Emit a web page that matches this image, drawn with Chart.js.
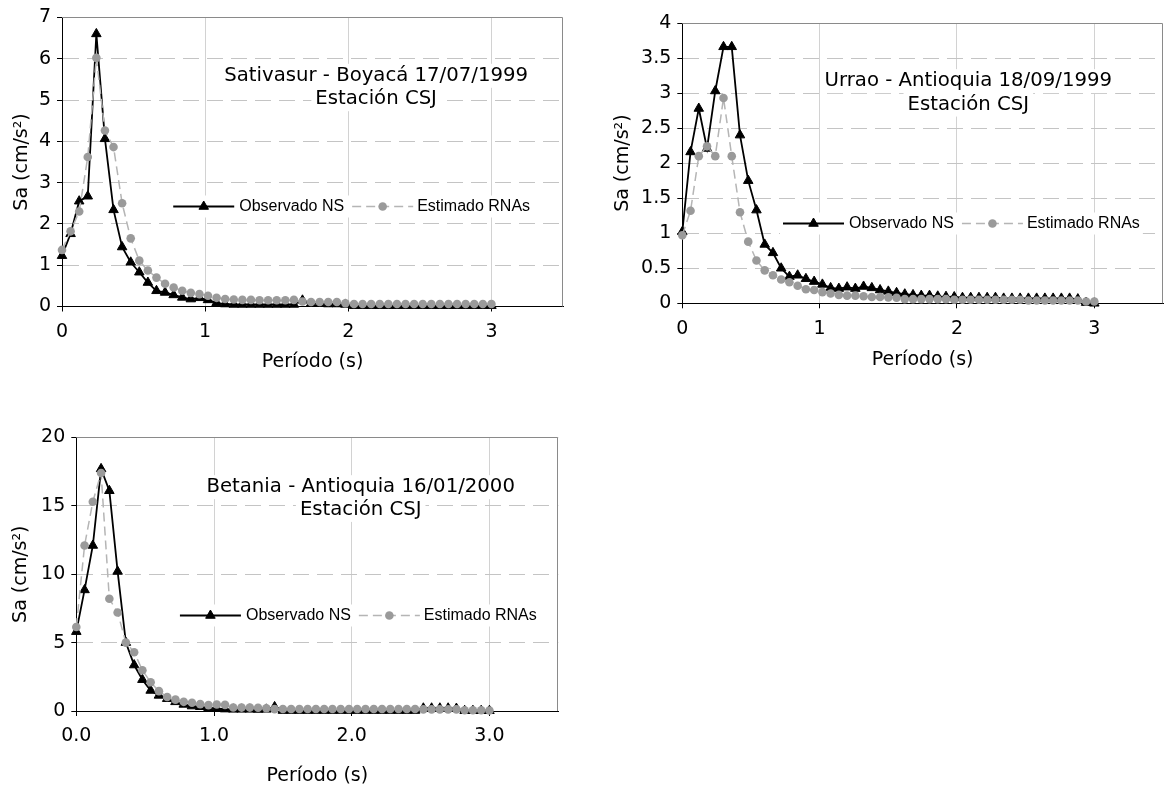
<!DOCTYPE html>
<html>
<head>
<meta charset="utf-8">
<title>Espectros de respuesta - Estación CSJ</title>
<script src="https://cdn.jsdelivr.net/npm/chart.js@4.4.0/dist/chart.umd.min.js"></script>
<style>
html,body{margin:0;background:#fff;overflow:hidden;}
canvas{position:absolute;}
</style>
</head>
<body>
<canvas id="g1" width="580" height="385" style="left:0;top:0"></canvas>
<canvas id="g2" width="574" height="385" style="left:590px;top:0"></canvas>
<canvas id="g3" width="580" height="369" style="left:0;top:420px"></canvas>
<script>
// Periodos (s)
const periodos = [0, 0.06, 0.12, 0.18, 0.24, 0.3, 0.36, 0.42, 0.48, 0.54,
  0.6, 0.66, 0.72, 0.78, 0.84, 0.9, 0.96, 1.02, 1.08, 1.14,
  1.2, 1.26, 1.32, 1.38, 1.44, 1.5, 1.56, 1.62, 1.68, 1.74,
  1.8, 1.86, 1.92, 1.98, 2.04, 2.1, 2.16, 2.22, 2.28, 2.34,
  2.4, 2.46, 2.52, 2.58, 2.64, 2.7, 2.76, 2.82, 2.88, 2.94, 3.0];

// Sativasur - Boyacá 17/07/1999
const obsSativasur = [1.23, 1.76, 2.55, 2.67, 6.60, 4.06, 2.34, 1.44, 1.07, 0.83,
  0.58, 0.38, 0.34, 0.28, 0.22, 0.18, 0.21, 0.16, 0.09, 0.06,
  0.05, 0.05, 0.05, 0.05, 0.05, 0.05, 0.05, 0.05, 0.15, 0.07,
  0.07, 0.06, 0.06, 0.05, 0.02, 0.02, 0.02, 0.02, 0.02, 0.02,
  0.02, 0.02, 0.02, 0.02, 0.02, 0.02, 0.02, 0.02, 0.02, 0.02, 0.02];
const estSativasur = [1.37, 1.82, 2.30, 3.62, 6.02, 4.26, 3.86, 2.50, 1.65, 1.11,
  0.87, 0.70, 0.55, 0.46, 0.38, 0.33, 0.30, 0.26, 0.21, 0.18,
  0.17, 0.16, 0.16, 0.15, 0.15, 0.15, 0.15, 0.16, 0.12, 0.11,
  0.11, 0.11, 0.11, 0.08, 0.06, 0.06, 0.06, 0.06, 0.06, 0.06,
  0.06, 0.06, 0.06, 0.06, 0.06, 0.06, 0.06, 0.06, 0.06, 0.06, 0.06];

// Urrao - Antioquia 18/09/1999
const obsUrrao = [1.02, 2.16, 2.78, 2.21, 3.03, 3.66, 3.66, 2.40, 1.75, 1.33,
  0.84, 0.72, 0.50, 0.38, 0.40, 0.35, 0.31, 0.27, 0.22, 0.21,
  0.23, 0.21, 0.24, 0.22, 0.19, 0.17, 0.15, 0.13, 0.12, 0.11,
  0.11, 0.10, 0.095, 0.09, 0.08, 0.08, 0.08, 0.08, 0.08, 0.07,
  0.07, 0.07, 0.07, 0.07, 0.07, 0.07, 0.07, 0.07, 0.06, 0.01, 0.0];
const estUrrao = [0.97, 1.32, 2.10, 2.24, 2.10, 2.93, 2.10, 1.30, 0.88, 0.61,
  0.47, 0.40, 0.34, 0.30, 0.25, 0.20, 0.19, 0.16, 0.14, 0.12,
  0.11, 0.11, 0.10, 0.09, 0.09, 0.085, 0.08, 0.06, 0.06, 0.06,
  0.06, 0.06, 0.06, 0.05, 0.05, 0.05, 0.05, 0.05, 0.05, 0.05,
  0.05, 0.05, 0.04, 0.04, 0.04, 0.04, 0.04, 0.04, 0.04, 0.025, 0.025];

// Betania - Antioquia 16/01/2000
const obsBetania = [5.8, 8.85, 12.1, 17.7, 16.1, 10.2, 5.0, 3.36, 2.29, 1.5,
  1.14, 0.9, 0.67, 0.48, 0.36, 0.31, 0.24, 0.19, 0.14, 0.12,
  0.12, 0.12, 0.11, 0.12, 0.3, 0.03, 0.03, 0.03, 0.03, 0.03,
  0.03, 0.03, 0.03, 0.03, 0.03, 0.03, 0.03, 0.03, 0.03, 0.03,
  0.03, 0.03, 0.2, 0.2, 0.2, 0.2, 0.18, 0.02, 0.02, 0.02, 0.02];
const estBetania = [6.14, 12.1, 15.3, 17.4, 8.2, 7.2, 5.0, 4.3, 2.98, 2.1,
  1.45, 1.02, 0.83, 0.67, 0.6, 0.5, 0.43, 0.48, 0.45, 0.26,
  0.25, 0.25, 0.24, 0.2, 0.14, 0.15, 0.15, 0.15, 0.15, 0.15,
  0.15, 0.15, 0.15, 0.15, 0.15, 0.15, 0.15, 0.15, 0.15, 0.15,
  0.15, 0.15, 0.12, 0.12, 0.12, 0.12, 0.12, 0.06, 0.05, 0.05, 0.04];

const FUENTE = "'DejaVu Sans', Verdana, sans-serif";
Chart.defaults.font.family = FUENTE;
Chart.defaults.font.size = 19;
Chart.defaults.color = '#000';

// marco gris, cuadro de titulo y leyenda dentro del area de trazado
const rotulos = {
  id: 'rotulos',
  beforeDatasetsDraw(chart, args, o) {
    const ctx = chart.ctx, a = chart.chartArea;
    const w = a.right - a.left, h = a.bottom - a.top;
    ctx.save();

    ctx.strokeStyle = '#8a8a8a';
    ctx.lineWidth = 1;
    ctx.beginPath();
    ctx.moveTo(a.left, Math.round(a.top) + 0.5);
    ctx.lineTo(Math.round(a.right) - 0.5, Math.round(a.top) + 0.5);
    ctx.lineTo(Math.round(a.right) - 0.5, a.bottom);
    ctx.stroke();

    // titulo
    ctx.font = '19.7px ' + FUENTE;
    ctx.textAlign = 'center';
    ctx.textBaseline = 'middle';
    const cx = a.left + o.titulo.x * w;
    o.titulo.lineas.forEach((t, i) => {
      const y = a.top + o.titulo.y[i] * h;
      const tw = ctx.measureText(t).width;
      ctx.fillStyle = '#fff';
      ctx.fillRect(cx - tw / 2 - 4, y - 12, tw + 8, 24);
      ctx.fillStyle = '#000';
      ctx.fillText(t, cx, y);
    });

    // leyenda
    const ds = chart.data.datasets;
    ctx.font = "16px 'Liberation Sans', Arial, sans-serif";
    ctx.textAlign = 'left';
    const L = 61;
    const x1 = a.left + o.leyenda.x * w, ly = Math.round(a.top + o.leyenda.y * h) + 0.5;
    const w1 = ctx.measureText(ds[0].label).width, w2 = ctx.measureText(ds[1].label).width;
    const xt1 = x1 + L + 5, x2 = xt1 + w1 + 8, xt2 = x2 + L + 4;
    ctx.fillStyle = '#fff';
    ctx.fillRect(x1 - 3, ly - 11, xt2 + w2 - x1 + 6, 22);

    ctx.strokeStyle = ds[0].borderColor;
    ctx.lineWidth = ds[0].borderWidth;
    ctx.beginPath(); ctx.moveTo(x1, ly); ctx.lineTo(x1 + L, ly); ctx.stroke();
    const r = ds[0].pointRadius, tx = x1 + L / 2;
    ctx.fillStyle = '#000';
    ctx.lineWidth = 1;
    ctx.beginPath();
    ctx.moveTo(tx, ly - r);
    ctx.lineTo(tx + r * 0.866, ly + r / 2);
    ctx.lineTo(tx - r * 0.866, ly + r / 2);
    ctx.closePath(); ctx.fill(); ctx.stroke();
    ctx.fillText(ds[0].label, xt1, ly);

    ctx.strokeStyle = ds[1].borderColor;
    ctx.lineWidth = ds[1].borderWidth;
    ctx.setLineDash(ds[1].borderDash);
    ctx.beginPath(); ctx.moveTo(x2, ly); ctx.lineTo(x2 + L, ly); ctx.stroke();
    ctx.setLineDash([]);
    ctx.fillStyle = ds[1].pointBackgroundColor;
    ctx.beginPath(); ctx.arc(x2 + L / 2, ly, ds[1].pointRadius, 0, Math.PI * 2); ctx.fill();
    ctx.fillStyle = '#000';
    ctx.fillText(ds[1].label, xt2, ly);

    ctx.restore();
  }
};

function series(obs, est) {
  return [
    {
      label: 'Observado NS',
      data: periodos.map((p, i) => ({x: p, y: obs[i]})),
      borderColor: '#000',
      backgroundColor: '#000',
      borderWidth: 1.8,
      pointStyle: 'triangle',
      pointRadius: 5.5,
      pointBorderWidth: 1,
      pointBackgroundColor: '#000',
      tension: 0,
      clip: false,
      order: 2
    },
    {
      label: 'Estimado RNAs',
      data: periodos.map((p, i) => ({x: p, y: est[i]})),
      borderColor: '#b5b5b5',
      borderDash: [9, 5],
      borderWidth: 1.5,
      pointStyle: 'circle',
      pointRadius: 4.3,
      pointBorderWidth: 0,
      pointBackgroundColor: '#9a9a9a',
      pointBorderColor: '#9a9a9a',
      tension: 0,
      clip: false,
      order: 1
    }
  ];
}

function grafica(id, obs, est, c) {
  new Chart(document.getElementById(id), {
    type: 'line',
    data: {datasets: series(obs, est)},
    plugins: [rotulos],
    options: {
      responsive: false,
      animation: false,
      events: [],
      layout: {autoPadding: false, padding: {top: c.arriba, right: c.derecha, left: 0, bottom: 0}},
      plugins: {
        legend: {display: false},
        tooltip: {enabled: false},
        rotulos: {titulo: c.titulo, leyenda: c.leyenda}
      },
      scales: {
        x: {
          type: 'linear',
          min: 0, max: 3.5,
          afterFit: s => { s.height = c.altoX; s.paddingLeft = 0; s.paddingRight = 0; },
          ticks: {stepSize: 1, includeBounds: false, padding: 9, maxRotation: 0,
                  callback: c.fmtX},
          grid: {color: '#d2d2d2', lineWidth: 1, tickColor: '#000', tickLength: 5},
          border: {color: '#000', width: 1},
          title: {display: true, text: 'Período (s)', padding: {top: 0, bottom: c.padTituloX}}
        },
        y: {
          min: 0, max: c.yMax,
          afterFit: s => { s.width = c.anchoY; },
          ticks: {stepSize: c.yPaso, padding: 6, callback: v => String(v)},
          grid: {color: '#c4c4c4', lineWidth: 1, tickColor: '#000', tickLength: 5},
          border: {color: '#000', width: 1, dash: [16, 8]},
          title: {display: true, text: 'Sa (cm/s²)', padding: {top: c.padTituloY, bottom: 0}}
        }
      }
    }
  });
}

grafica('g1', obsSativasur, estSativasur, {
  yMax: 7, yPaso: 1, arriba: 14, derecha: 17, anchoY: 62, altoX: 78.5,
  padTituloY: 10.3, padTituloX: 11.6, fmtX: v => String(v),
  titulo: {lineas: ['Sativasur - Boyacá 17/07/1999', 'Estación CSJ'], x: 0.627, y: [0.202, 0.283]},
  leyenda: {x: 0.222, y: 0.653}
});

grafica('g2', obsUrrao, estUrrao, {
  yMax: 4, yPaso: 0.5, arriba: 23, derecha: 1, anchoY: 92.3, altoX: 81.7,
  padTituloY: 21.6, padTituloX: 13.6, fmtX: v => String(v),
  titulo: {lineas: ['Urrao - Antioquia 18/09/1999', 'Estación CSJ'], x: 0.595, y: [0.2075, 0.291]},
  leyenda: {x: 0.2095, y: 0.712}
});

grafica('g3', obsBetania, estBetania, {
  yMax: 20, yPaso: 5, arriba: 11, derecha: 21.7, anchoY: 76.3, altoX: 78,
  padTituloY: 10, padTituloX: 2, fmtX: v => v.toFixed(1),
  titulo: {lineas: ['Betania - Antioquia 16/01/2000', 'Estación CSJ'], x: 0.59, y: [0.182, 0.265]},
  leyenda: {x: 0.215, y: 0.65}
});
</script>
</body>
</html>
